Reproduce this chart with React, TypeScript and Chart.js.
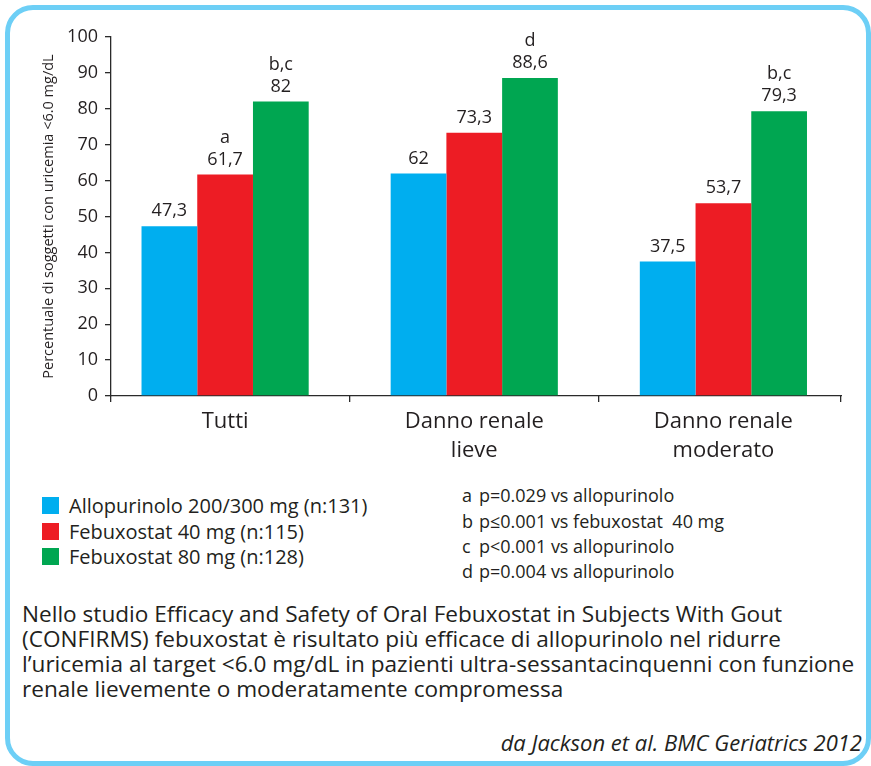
import { useEffect, useRef } from "react";
import { Chart, registerables } from "chart.js";

Chart.register(...registerables);

// ---- data ----
const categories: string[][] = [["Tutti"], ["Danno renale", "lieve"], ["Danno renale", "moderato"]];
const seriesNames = [
  "Allopurinolo 200/300 mg (n:131)",
  "Febuxostat 40 mg (n:115)",
  "Febuxostat 80 mg (n:128)",
];
const allopurinolo = [47.3, 62, 37.5];
const febuxostat40 = [61.7, 73.3, 53.7];
const febuxostat80 = [82, 88.6, 79.3];
const notesAllopurinolo = ["", "", ""];
const notesFebuxostat40 = ["a", "", ""];
const notesFebuxostat80 = ["b,c", "d", "b,c"];
const seriesValues = [allopurinolo, febuxostat40, febuxostat80];
const seriesNotes = [notesAllopurinolo, notesFebuxostat40, notesFebuxostat80];
const yAxisTitle = "Percentuale di soggetti con uricemia <6.0 mg/dL";
const footnoteLetters = ["a", "b", "c", "d"];
const footnoteTexts = [
  "p=0.029 vs allopurinolo",
  "p≤0.001 vs febuxostat  40 mg",
  "p<0.001 vs allopurinolo",
  "p=0.004 vs allopurinolo",
];
const captionLines = [
  "Nello studio Efficacy and Safety of Oral Febuxostat in Subjects With Gout",
  "(CONFIRMS) febuxostat è risultato più efficace di allopurinolo nel ridurre",
  "l’uricemia al target <6.0 mg/dL in pazienti ultra-sessantacinquenni con funzione",
  "renale lievemente o moderatamente compromessa",
];
const sourceText = "da Jackson et al. BMC Geriatrics 2012";

// ---- styling ----
const FONT = "'Open Sans', Lato, sans-serif";
const TEXT = "#231F20";
const AXIS = "#2a2a2a";
const seriesColors = ["#00AEEF", "#ED1C24", "#00A651"];
const FRAME = "#6DCFF6";

// x range chosen so the axis starts at the y axis and ends just past the last group
const X_MIN = -0.458;
const X_MAX = 2.472;

const formatValue = (v: number) => String(v).replace(".", ",");

const barLabels = {
  id: "barLabels",
  afterDatasetsDraw(chart: any) {
    const ctx = chart.ctx;
    ctx.save();
    ctx.fillStyle = TEXT;
    ctx.font = `18px ${FONT}`;
    ctx.textAlign = "center";
    ctx.textBaseline = "middle";
    chart.data.datasets.forEach((_: any, di: number) => {
      const meta = chart.getDatasetMeta(di);
      meta.data.forEach((bar: any, i: number) => {
        ctx.fillText(formatValue(seriesValues[di][i]), bar.x, bar.y - 15);
        const note = seriesNotes[di][i];
        if (note) ctx.fillText(note, bar.x, bar.y - 37);
      });
    });
    ctx.restore();
  },
};

export default function App() {
  const canvasRef = useRef<HTMLCanvasElement>(null);

  useEffect(() => {
    const canvas = canvasRef.current;
    if (!canvas) return;
    const chart = new Chart(canvas, {
      type: "bar",
      data: {
        datasets: seriesNames.map((name, di) => ({
          label: name,
          data: seriesValues[di].map((v, i) => ({ x: i, y: v })),
          backgroundColor: seriesColors[di],
          borderWidth: 0,
          categoryPercentage: 0.671,
          barPercentage: 1,
        })),
      },
      options: {
        responsive: false,
        animation: false,
        devicePixelRatio: 1,
        layout: { padding: { top: 37, right: 30, left: 0, bottom: 0 } },
        plugins: {
          legend: { display: false },
          tooltip: { enabled: false },
        },
        scales: {
          y: {
            min: 0,
            max: 100,
            ticks: {
              stepSize: 10,
              color: TEXT,
              font: { family: FONT, size: 18 },
              padding: 7,
            },
            grid: {
              drawOnChartArea: false,
              drawTicks: true,
              tickLength: 6,
              color: AXIS,
              lineWidth: 1.3,
            },
            border: { display: true, color: AXIS, width: 1.3 },
            title: {
              display: true,
              text: yAxisTitle,
              color: TEXT,
              font: { family: FONT, size: 14.5 },
              padding: { top: 40, bottom: 0 },
            },
            afterFit(scale: any) {
              scale.width = 111;
            },
          },
          x: {
            type: "linear",
            position: "bottom",
            weight: 1,
            min: X_MIN,
            max: X_MAX,
            offset: false,
            afterBuildTicks(scale: any) {
              scale.ticks = categories.map((_, i) => ({ value: i }));
            },
            ticks: {
              color: TEXT,
              font: { family: FONT, size: 22, lineHeight: 1.32 },
              padding: 11,
              maxRotation: 0,
              autoSkip: false,
              callback: (_v: any, i: number) => categories[i],
            },
            grid: { display: true, drawOnChartArea: false, drawTicks: false, offset: false },
            border: { display: true, color: AXIS, width: 1.3 },
            afterFit(scale: any) {
              scale.height = 79;
            },
          },
          // tick marks between the groups
          x2: {
            type: "linear",
            axis: "x",
            position: "bottom",
            weight: 0,
            min: X_MIN,
            max: X_MAX,
            offset: false,
            afterBuildTicks(scale: any) {
              scale.ticks = [X_MIN, 0.5, 1.5, X_MAX].map((value) => ({ value }));
            },
            ticks: { display: false },
            grid: {
              display: true,
              drawOnChartArea: false,
              drawTicks: true,
              tickLength: 6,
              offset: false,
              color: AXIS,
              lineWidth: 1.3,
            },
            border: { display: false },
            afterFit(scale: any) {
              scale.height = 0;
            },
          },
        } as any,
      },
      plugins: [barLabels],
    });
    return () => chart.destroy();
  }, []);

  const legendRowsY = [505.5, 531, 556.5];
  const footnoteRowsY = [495, 521, 546, 571];

  return (
    <div
      style={{
        position: "absolute",
        left: 0,
        top: 0,
        width: 871,
        height: 766,
        overflow: "hidden",
        background: "#fff",
        fontFamily: FONT,
        color: TEXT,
      }}
    >
      <div
        style={{
          position: "absolute",
          left: 5,
          top: 5,
          width: 866,
          height: 761,
          boxSizing: "border-box",
          border: `5px solid ${FRAME}`,
          borderRadius: 28,
        }}
      />
      <canvas
        ref={canvasRef}
        width={871}
        height={475}
        style={{ position: "absolute", left: 0, top: 0, width: 871, height: 475 }}
      />
      {seriesNames.map((name, i) => (
        <div
          key={name}
          style={{
            position: "absolute",
            left: 42,
            top: legendRowsY[i] - 12,
            height: 24,
            display: "flex",
            alignItems: "center",
            whiteSpace: "nowrap",
            fontSize: 20,
          }}
        >
          <span
            style={{
              display: "inline-block",
              width: 17,
              height: 17,
              background: seriesColors[i],
              marginRight: 10,
            }}
          />
          <span>{name}</span>
        </div>
      ))}
      {footnoteTexts.map((t, i) => (
        <div
          key={t}
          style={{
            position: "absolute",
            left: 462,
            top: footnoteRowsY[i] - 12,
            height: 24,
            lineHeight: "24px",
            fontSize: 18,
            whiteSpace: "pre",
          }}
        >
          <span style={{ display: "inline-block", width: 17 }}>{footnoteLetters[i]}</span>
          {t}
        </div>
      ))}
      <div
        style={{
          position: "absolute",
          left: 22,
          top: 600.5,
          fontSize: 22.6,
          lineHeight: "25px",
          whiteSpace: "nowrap",
        }}
      >
        {captionLines.map((line) => (
          <div key={line}>{line}</div>
        ))}
      </div>
      <div
        style={{
          position: "absolute",
          right: 9,
          top: 729,
          height: 26,
          lineHeight: "26px",
          fontSize: 22,
          fontStyle: "italic",
          whiteSpace: "nowrap",
        }}
      >
        {sourceText}
      </div>
    </div>
  );
}
